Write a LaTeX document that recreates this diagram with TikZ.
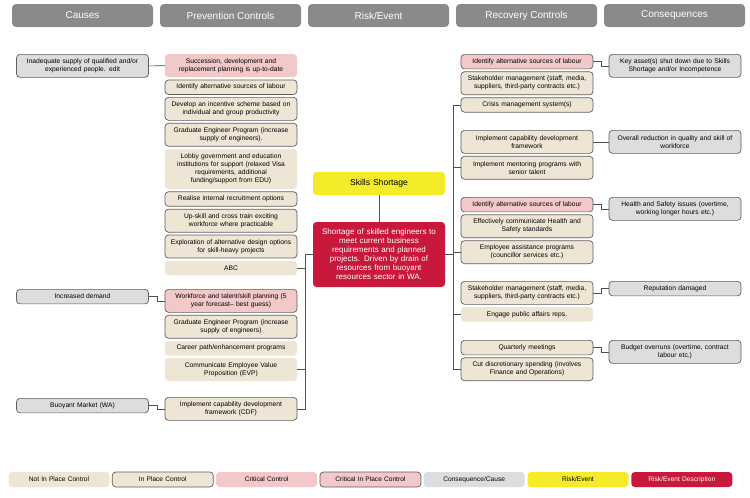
\documentclass[tikz,border=0pt]{standalone}
\usepackage{fontspec}
\setmainfont{Liberation Sans}
\usetikzlibrary{positioning}
\definecolor{headgray}{RGB}{138,138,138}
\definecolor{ctrlbeige}{RGB}{238,229,212}
\definecolor{critpink}{RGB}{243,200,200}
\definecolor{causegray}{RGB}{220,221,223}
\definecolor{riskyellow}{RGB}{244,236,40}
\definecolor{riskred}{RGB}{200,25,60}
\definecolor{edgegray}{RGB}{95,95,95}
\definecolor{linkgray}{RGB}{80,80,80}

\begin{document}
\begin{tikzpicture}[x=1pt,y=-1pt,node distance=2.2pt,
  box/.style={rounded corners=3.5pt,minimum width=132pt,text width=129pt,align=center,inner sep=1pt,font=\fontsize{6.7}{8}\selectfont},
  h1/.style={minimum height=14.5pt},
  h2/.style={minimum height=23pt},
  h4/.style={minimum height=40pt},
  notin/.style={box,fill=ctrlbeige},
  inplace/.style={box,fill=ctrlbeige,draw=edgegray,line width=.7pt},
  crit/.style={box,fill=critpink},
  critin/.style={box,fill=critpink,draw=edgegray,line width=.7pt},
  cause/.style={box,fill=causegray,draw=edgegray,line width=.7pt},
  conleg/.style={box,fill=causegray},
  riskev/.style={box,fill=riskyellow,font=\fontsize{8.6}{10}\selectfont},
  riskdesc/.style={box,fill=riskred,text=white,font=\fontsize{8}{9}\selectfont},
  head/.style={fill=headgray,rounded corners=4pt,minimum width=141pt,minimum height=23pt,text=white,font=\fontsize{10}{12}\selectfont},
  legend/.style={minimum width=101pt,text width=99pt,minimum height=15pt,font=\fontsize{6.6}{8}\selectfont},
  link/.style={draw=linkgray,line width=.6pt}]
\path[fill=white,use as bounding box] (0,0) rectangle (750,498);

% column headers
\foreach \t [count=\i from 0] in {Causes,Prevention Controls,Risk/Event,Recovery Controls,Consequences}
  \node[head] (hd\i) at (82.5+148*\i,15.5) {\t};

% causes
\node[cause,h2,anchor=north] (supply) at (82.5,54) {Inadequate supply of qualified and/or\\experienced people. edit};
\node[cause,h1,anchor=north] (demand) at (82.5,289) {Increased demand};
\node[cause,h1,anchor=north] (market) at (82.5,398) {Buoyant Market (WA)};

% prevention controls
\node[crit,h2,anchor=north] (succ) at (231,54) {Succession, development and\\replacement planning is up-to-date};
\node[inplace,h1,below=of succ] (altp) {Identify alternative sources of labour};
\node[inplace,h2,below=of altp] (incent) {Develop an incentive scheme based on\\individual and group productivity};
\node[inplace,h2,below=of incent] (grad1) {Graduate Engineer Program (increase\\supply of engineers).};
\node[notin,h4,below=of grad1] (lobby) {Lobby government and education\\institutions for support (relaxed Visa\\requirements, additional\\funding/support from EDU)};
\node[inplace,h1,below=of lobby] (recr) {Realise internal recruitment options};
\node[inplace,h2,below=of recr] (upskill) {Up-skill and cross train exciting\\workforce where practicable};
\node[inplace,h2,below=of upskill] (explore) {Exploration of alternative design options\\for skill-heavy projects};
\node[notin,h1,below=of explore] (abc) {ABC};

\node[critin,h2,anchor=north] (work) at (231,289) {Workforce and talent/skill planning (5\\year forecast-- best guess)};
\node[inplace,h2,below=of work] (grad2) {Graduate Engineer Program (increase\\supply of engineers)};
\node[notin,h1,below=of grad2] (career) {Career path/enhancement programs};
\node[notin,h2,below=of career] (evp) {Communicate Employee Value\\Proposition (EVP)};

\node[inplace,h2,anchor=north] (cdf) at (231,397) {Implement capability development\\framework (CDF)};

% risk event
\node[riskev,h2] (risk) at (379,183.5) {Skills Shortage};
\node[riskdesc,minimum height=65pt] (desc) at (379,254.5) {Shortage of skilled engineers to\\meet current business\\requirements and planned\\projects. Driven by drain of\\resources from buoyant\\resources sector in WA.};

% recovery controls
\node[critin,h1,anchor=north] (alt1) at (527,54) {Identify alternative sources of labour};
\node[inplace,h2,below=of alt1] (stake1) {Stakeholder management (staff, media,\\suppliers, third-party contracts etc.)};
\node[inplace,h1,below=of stake1] (crisis) {Crisis management system(s)};

\node[inplace,h2,anchor=north] (capdev) at (527,130) {Implement capability development\\framework};
\node[inplace,h2,below=of capdev] (mentor) {Implement mentoring programs with\\senior talent};

\node[critin,h1,anchor=north] (alt2) at (527,197) {Identify alternative sources of labour};
\node[inplace,h2,below=of alt2] (hscomm) {Effectively communicate Health and\\Safety standards};
\node[inplace,h2,below=of hscomm] (assist) {Employee assistance programs\\(councillor services etc.)};

\node[inplace,h2,anchor=north] (stake2) at (527,281) {Stakeholder management (staff, media,\\suppliers, third-party contracts etc.)};
\node[notin,h1,below=of stake2] (engage) {Engage public affairs reps.};

\node[inplace,h1,anchor=north] (quart) at (527,340) {Quarterly meetings};
\node[inplace,h2,below=of quart] (cut) {Cut discretionary spending (involves\\Finance and Operations)};

% consequences
\node[cause,h2,anchor=north] (keyasset) at (675,54) {Key asset(s) shut down due to Skills\\Shortage and/or Incompetence};
\node[cause,h2,anchor=north] (overall) at (675,130) {Overall reduction in quality and skill of\\workforce};
\node[cause,h2,anchor=north] (health) at (675,197) {Health and Safety issues (overtime,\\working longer hours etc.)};
\node[cause,h1,anchor=north] (reput) at (675,281) {Reputation damaged};
\node[cause,h2,anchor=north] (budget) at (675,340) {Budget overruns (overtime, contract\\labour etc.)};

% connectors
\draw[link] (supply.east) -- (succ.west);
\foreach \a/\b in {demand/work,market/cdf} \draw[link] (\a.east) -- ++(8.5,0) |- (\b.west);
\draw[link] (risk) -- (desc);
\draw[link] (desc.west) -- ++(-8,0) coordinate (ltrunk);
\foreach \a in {abc,evp,cdf} \draw[link] (ltrunk) |- (\a.east);
\draw[link] (desc.east) -- ++(8,0) coordinate (rtrunk);
\foreach \a in {crisis,mentor,assist,engage,cut} \draw[link] (rtrunk) |- (\a.west);
\foreach \a/\b in {alt1/keyasset,capdev/overall,alt2/health,stake2/reput,quart/budget} \draw[link] (\a.east) -- ++(8,0) |- (\b.west);

% legend
\foreach \s/\t [count=\i from 0] in {notin/Not In Place Control,inplace/In Place Control,crit/Critical Control,critin/Critical In Place Control,conleg/{Consequence/Cause},riskev/{Risk/Event},riskdesc/{Risk/Event Description}}
  \node[\s,legend] (leg\i) at (59+103.8*\i,479.5) {\t};
\end{tikzpicture}
\end{document}
